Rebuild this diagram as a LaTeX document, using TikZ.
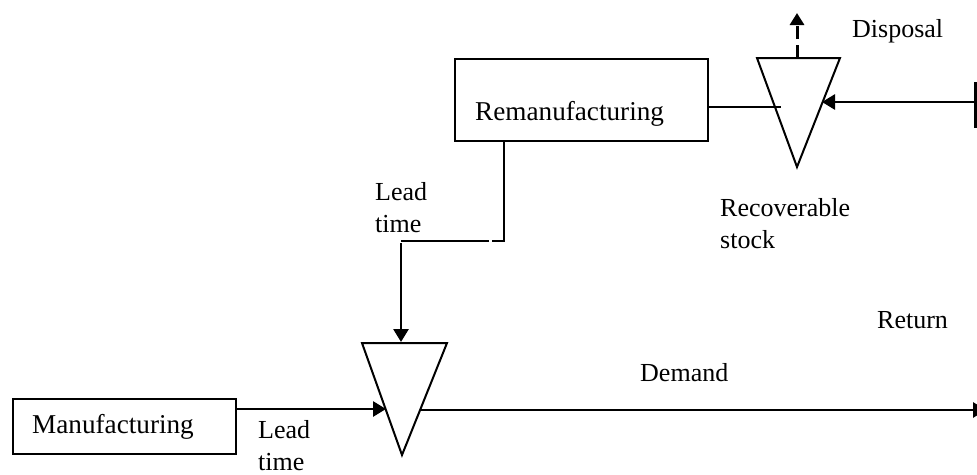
\documentclass[tikz,border=0pt]{standalone}
\usepackage{fontspec}
\setmainfont{Liberation Serif}
\usetikzlibrary{arrows.meta,calc}
\begin{document}
\begin{tikzpicture}[x=1pt,y=-1pt,
  box/.style={draw,line width=2.2pt,inner sep=0pt,anchor=north west},
  boxtext/.style={inner sep=0pt,anchor=base west,font=\fontsize{27.2}{32}\selectfont},
  lbl/.style={inner sep=0pt,anchor=base west,font=\fontsize{26}{32}\selectfont,align=left},
  stock/.style={draw,line width=2pt,line join=miter},
  flow/.style={line width=2.8pt,-{Triangle[length=13pt,width=15pt]}},
  link/.style={line width=2.8pt},
  thinlink/.style={line width=2pt},
  disposal/.style={line width=3pt,dash pattern=on 13pt off 6pt,-{Triangle[length=12pt,width=14pt]}},
]
\useasboundingbox (0,0) rectangle (977,474);
\clip (0,0) rectangle (977,474);

% process boxes
\node[box,minimum width=253pt,minimum height=82pt] (rem) at (454,58) {};
\node[boxtext] (remtext) at (475,120) {Remanufacturing};
\node[box,minimum width=223pt,minimum height=55pt] (mfg) at (12,398) {};
\node[boxtext] (mfgtext) at (32,433) {Manufacturing};

% recoverable stock (upper triangle)
\coordinate (rtl) at (757,58);
\coordinate (rtr) at (840,58);
\coordinate (rap) at (797,167);
\draw[stock] (rtl) -- (rtr) -- (rap) -- cycle;
\coordinate (rtop) at (797,58);
\coordinate (remin) at (781,107);
\coordinate (retin) at (822,102);

% serviceable stock (lower triangle)
\coordinate (stl) at (362,343);
\coordinate (str) at (447,343);
\coordinate (sap) at (402,455);
\draw[stock] (stl) -- (str) -- (sap) -- cycle;
\coordinate (stop) at (401,342);
\coordinate (mfgin) at (386,409);
\coordinate (demout) at (420,410);

% free ends
\coordinate (dispend) at (797,13);
\coordinate (retstart) at (977,102);
\coordinate (demend) at (986,410);
\coordinate (bend) at (504,241);
\coordinate (gapr) at (492,241);
\coordinate (gapl) at (489,241);
\coordinate (leadl) at (401,241);
\coordinate (leadd) at (401,243);

% flows
\draw[disposal] (rtop) -- (dispend);
\draw[thinlink] (rem.east |- remin) -- (remin);
\draw[flow] (retstart) -- (retin);
\draw[link] (975.5,82) -- (975.5,128);
\draw[link] (rem.south -| bend) -- (bend) -- (gapr);
\draw[link] (gapl) -- (leadl);
\draw[flow] (leadd) -- (stop);
\draw[flow] (mfg.east |- mfgin) -- (mfgin);
\draw[flow] (demout) -- (demend);

% labels (multi-line labels are anchored at the baseline of their last line)
\node[lbl] (disp) at (852,37) {Disposal};
\node[lbl] (lead1) at (375,232) {Lead\\time};
\node[lbl] (recov) at (720,248) {Recoverable\\stock};
\node[lbl] (ret) at (877,328) {Return};
\node[lbl] (dem) at (640,381) {Demand};
\node[lbl] (lead2) at (258,470) {Lead\\time};
\end{tikzpicture}
\end{document}
